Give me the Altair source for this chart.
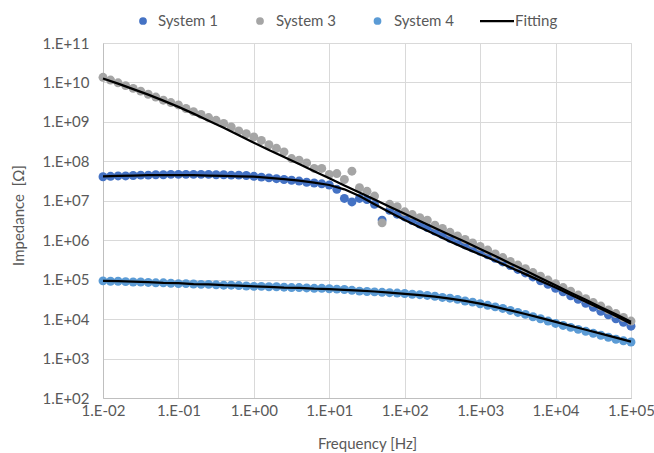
import altair as alt
import pandas as pd

# ---------------- data ----------------
# frequency grid: 10 points per decade for data, 5 per decade for fits
MANT10 = [1.0, 1.259, 1.585, 1.995, 2.512, 3.162, 3.981, 5.012, 6.310, 7.943]
MANT5 = [1.0, 1.585, 2.512, 3.981, 6.310]
DECADES = [1e-2, 1e-1, 1e0, 1e1, 1e2, 1e3, 1e4]
LAST_F = 1e5

# log10 of impedance [Ohm]
sys1_log = [7.61, 7.62, 7.63, 7.63, 7.64, 7.65, 7.65, 7.66, 7.66, 7.67,
            7.67, 7.67, 7.67, 7.67, 7.67, 7.66, 7.66, 7.65, 7.65, 7.64,
            7.62, 7.60, 7.58, 7.56, 7.54, 7.52, 7.50, 7.47, 7.45, 7.43,
            7.40, 7.29, 7.06, 6.97, 7.06, 7.03, 6.91, 6.51, 6.76, 6.66,
            6.59, 6.50, 6.41, 6.32, 6.23, 6.14, 6.05, 5.97, 5.88, 5.80,
            5.72, 5.63, 5.54, 5.45, 5.36, 5.26, 5.17, 5.07, 4.97, 4.88,
            4.78, 4.69, 4.59, 4.50, 4.40, 4.30, 4.20, 4.11, 4.01, 3.92,
            3.82]
sys3_log = [10.13, 10.06, 9.99, 9.92, 9.85, 9.78, 9.70, 9.63, 9.55, 9.49,
            9.43, 9.34, 9.26, 9.19, 9.11, 9.04, 8.96, 8.87, 8.77, 8.70,
            8.62, 8.53, 8.42, 8.33, 8.24, 8.07, 8.03, 7.96, 7.82, 7.82,
            7.67, 7.69, 7.54, 7.75, 7.33, 7.24, 7.12, 6.44, 6.91, 6.85,
            6.72, 6.65, 6.57, 6.51, 6.38, 6.30, 6.20, 6.11, 6.02, 5.93,
            5.84, 5.75, 5.65, 5.56, 5.46, 5.37, 5.28, 5.18, 5.09, 4.99,
            4.90, 4.80, 4.71, 4.61, 4.52, 4.42, 4.33, 4.23, 4.14, 4.04,
            3.95]
sys4_log = [4.97, 4.96, 4.96, 4.95, 4.94, 4.94, 4.93, 4.92, 4.92, 4.91,
            4.90, 4.90, 4.89, 4.88, 4.88, 4.87, 4.86, 4.86, 4.85, 4.84,
            4.83, 4.83, 4.82, 4.82, 4.81, 4.80, 4.80, 4.79, 4.78, 4.78,
            4.77, 4.76, 4.75, 4.73, 4.71, 4.70, 4.69, 4.68, 4.67, 4.66,
            4.65, 4.63, 4.62, 4.60, 4.58, 4.55, 4.53, 4.50, 4.46, 4.43,
            4.39, 4.35, 4.31, 4.27, 4.22, 4.17, 4.12, 4.06, 4.01, 3.95,
            3.89, 3.84, 3.79, 3.74, 3.69, 3.64, 3.59, 3.54, 3.49, 3.45,
            3.42]

fit1_log = [7.62, 7.63, 7.64, 7.65, 7.65,
            7.65, 7.65, 7.64, 7.63, 7.62,
            7.61, 7.58, 7.55, 7.51, 7.46,
            7.40, 7.29, 7.12, 6.91, 6.71,
            6.51, 6.33, 6.15, 5.97, 5.80,
            5.64, 5.48, 5.31, 5.14, 4.97,
            4.80, 4.62, 4.44, 4.26, 4.08,
            3.88]
fit3_log = [10.10, 9.97, 9.83, 9.69, 9.54,
            9.38, 9.21, 9.03, 8.85, 8.66,
            8.47, 8.29, 8.11, 7.93, 7.75,
            7.57, 7.39, 7.21, 7.03, 6.85,
            6.67, 6.49, 6.31, 6.13, 5.96,
            5.78, 5.60, 5.41, 5.23, 5.04,
            4.86, 4.67, 4.49, 4.30, 4.12,
            3.93]
fit4_log = [4.97, 4.96, 4.95, 4.94, 4.92,
            4.91, 4.89, 4.88, 4.86, 4.85,
            4.83, 4.82, 4.80, 4.79, 4.77,
            4.76, 4.74, 4.72, 4.70, 4.67,
            4.64, 4.61, 4.57, 4.52, 4.46,
            4.39, 4.31, 4.22, 4.13, 4.03,
            3.93, 3.83, 3.73, 3.63, 3.53,
            3.43]

series_names = ["System 1", "System 3", "System 4"]
series_colors = ["#4472C4", "#A5A5A5", "#5B9BD5"]
x_ticks = [1e-2, 1e-1, 1e0, 1e1, 1e2, 1e3, 1e4, 1e5]
y_ticks = [1e2, 1e3, 1e4, 1e5, 1e6, 1e7, 1e8, 1e9, 1e10, 1e11]

# ---------------- build tables ----------------
freq10 = [d * m for d in DECADES for m in MANT10] + [LAST_F]
freq5 = [d * m for d in DECADES for m in MANT5] + [LAST_F]

rows = []
for name, vals in zip(series_names, [sys1_log, sys3_log, sys4_log]):
    for f, v in zip(freq10, vals):
        rows.append({"freq": f, "Z": 10 ** v, "series": name})
pts = pd.DataFrame(rows)

frows = []
for name, vals in zip(["fit1", "fit3", "fit4"], [fit1_log, fit3_log, fit4_log]):
    for f, v in zip(freq5, vals):
        frows.append({"freq": f, "Z": 10 ** v, "fit": name})
fits = pd.DataFrame(frows)

FONT = "Lato"
TXT = "#595959"
GRID = "#D9D9D9"

sci = ("'1.E' + (round(log(datum.value)/LN10) < 0 ? '-' : '+') + "
       "(abs(round(log(datum.value)/LN10)) < 10 ? '0' : '') + "
       "abs(round(log(datum.value)/LN10))")

x_enc = alt.X("freq:Q",
              scale=alt.Scale(type="log", domain=[1e-2, 1e5], nice=False),
              axis=alt.Axis(values=x_ticks, labelExpr=sci, title="Frequency [Hz]",
                            grid=True, gridColor=GRID, domainColor="#BFBFBF",
                            ticks=False, labelPadding=5, labelFontSize=15,
                            labelFlush=False, labelOverlap=False,
                            labelFont=FONT, labelColor=TXT, titleFont=FONT,
                            titleFontSize=15, titleFontWeight="normal",
                            titleColor=TXT, titleY=45, titleBaseline="middle"))
y_enc = alt.Y("Z:Q",
              scale=alt.Scale(type="log", domain=[1e2, 1e11], nice=False),
              axis=alt.Axis(values=y_ticks, labelExpr=sci, title="Impedance\u00a0\u00a0[Ω]",
                            grid=True, gridColor=GRID, domainColor="#BFBFBF",
                            ticks=False, labelPadding=14, labelFontSize=15,
                            labelFlush=False, labelOverlap=False,
                            labelFont=FONT, labelColor=TXT, titleFont=FONT,
                            titleFontSize=15, titleFontWeight="normal",
                            titleColor=TXT, titleX=-85, titleY=172,
                            titleBaseline="middle"))

points = alt.Chart(pts).mark_circle(size=80, opacity=1).encode(
    x=x_enc, y=y_enc,
    color=alt.Color("series:N", scale=alt.Scale(domain=series_names, range=series_colors),
                    legend=None),
)

lines = alt.Chart(fits).mark_line(color="black", strokeWidth=2.25).encode(
    x="freq:Q", y="Z:Q", detail="fit:N"
)

# ---------------- legend (manual, above the plot) ----------------
one = pd.DataFrame({"k": [0]})
LY = -22
leg = []
for name, col, mx, tx in zip(series_names, series_colors, [40, 157, 274.5], [55, 173, 291]):
    leg.append(alt.Chart(one).mark_circle(size=60, opacity=1, color=col).encode(
        x=alt.value(mx), y=alt.value(LY)))
    leg.append(alt.Chart(one).mark_text(text=name, align="left", baseline="middle",
                                        font=FONT, fontSize=15, color=TXT).encode(
        x=alt.value(tx), y=alt.value(LY)))
leg.append(alt.Chart(one).mark_rule(color="black", strokeWidth=2.25).encode(
    x=alt.value(377), x2=alt.value(411), y=alt.value(LY)))
leg.append(alt.Chart(one).mark_text(text="Fitting", align="left", baseline="middle",
                                    font=FONT, fontSize=15, color=TXT).encode(
    x=alt.value(412), y=alt.value(LY)))

chart = alt.layer(points, lines, *leg).properties(
    width=528, height=355,
    autosize=alt.AutoSizeParams(type="none"),
    padding={"left": 103, "top": 43, "right": 23, "bottom": 55},
).configure_view(stroke=None).configure(background="white")

chart.save("out.html", embed_options={"renderer": "svg", "actions": False})
